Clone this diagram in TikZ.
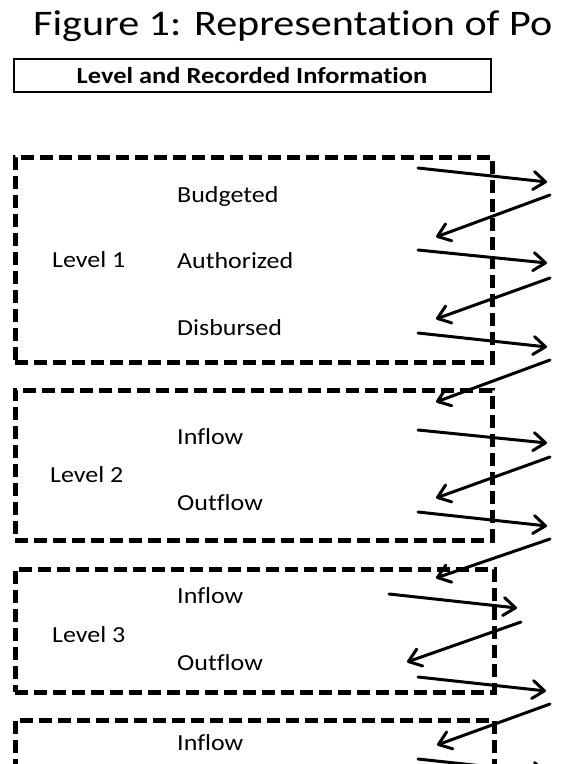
\documentclass[tikz,border=0pt]{standalone}
\usepackage{graphicx}
\usepackage{fontspec}
\setmainfont{Carlito}[Ligatures=NoCommon]
\usetikzlibrary{arrows.meta}
\newcommand{\wideA}[1]{\scalebox{1.13}[1]{#1}}
\begin{document}
\begin{tikzpicture}[x=1pt,y=-1pt,
  dashbox/.style={draw=black,line width=4.5pt,dash pattern=on 13pt off 6pt,anchor=north west,inner sep=0pt},
  lbl/.style={anchor=base west,inner sep=0pt,font=\fontsize{23}{26}\selectfont},
  flow/.style={line width=3pt,line cap=round,-{Straight Barb[length=12pt,width=18pt,line cap=round,line join=round]}},
]
\useasboundingbox (0,0) rectangle (570,764);
\node[anchor=base west,inner sep=0pt,font=\fontsize{36}{40}\selectfont] (title) at (33,35) {\scalebox{1.17}[1]{Figure 1: Representation of Po}};
\node[draw,line width=1.5pt,anchor=north west,minimum width=477pt,minimum height=33pt,inner sep=0pt] (hdr) at (13,58) {};
\node[font=\bfseries\fontsize{23}{26}\selectfont,anchor=base,inner sep=0pt] (hdrtxt) at (252,83) {\scalebox{1.15}[1]{Level and Recorded Information}};
% boxes
\node[dashbox,minimum width=477pt,minimum height=205pt] (lv1) at (13,155) {};
\node[dashbox,minimum width=477pt,minimum height=150pt] (lv2) at (13,388) {};
\node[dashbox,minimum width=479pt,minimum height=123pt] (lv3) at (13,567) {};
\node[dashbox,minimum width=479pt,minimum height=200pt] (lv4) at (13,718) {};
% labels
\node[lbl] (l1) at (52,267) {\wideA{Level 1}};
\node[lbl] (bud) at (177,202) {\wideA{Budgeted}};
\node[lbl] (aut) at (177,268) {\wideA{Authorized}};
\node[lbl] (dis) at (177,335) {\wideA{Disbursed}};
\node[lbl] (l2) at (50,482) {\wideA{Level 2}};
\node[lbl] (in2) at (177,444) {\wideA{Inflow}};
\node[lbl] (out2) at (177,510) {\wideA{Outflow}};
\node[lbl] (l3) at (52,642) {\wideA{Level 3}};
\node[lbl] (in3) at (177,603) {\wideA{Inflow}};
\node[lbl] (out3) at (177,670) {\wideA{Outflow}};
\node[lbl] (in4) at (177,750) {\wideA{Inflow}};
% arrow end points
\coordinate (a1s) at (418,168); \coordinate (a1e) at (547,182);
\coordinate (a2s) at (550,195); \coordinate (a2e) at (436,237);
\coordinate (a3s) at (418,250); \coordinate (a3e) at (547,263);
\coordinate (a4s) at (550,278); \coordinate (a4e) at (436,319);
\coordinate (a5s) at (418,333); \coordinate (a5e) at (547,347);
\coordinate (a6s) at (550,360); \coordinate (a6e) at (436,402);
\coordinate (a7s) at (418,430); \coordinate (a7e) at (547,443);
\coordinate (a8s) at (550,457); \coordinate (a8e) at (436,498);
\coordinate (a9s) at (418,512); \coordinate (a9e) at (547,526);
\coordinate (a10s) at (550,539); \coordinate (a10e) at (436,578);
\coordinate (a11s) at (389,594); \coordinate (a11e) at (517,608);
\coordinate (a12s) at (521,622); \coordinate (a12e) at (407,662);
\coordinate (a13s) at (418,677); \coordinate (a13e) at (546,691);
\coordinate (a14s) at (550,704); \coordinate (a14e) at (437,745);
\coordinate (a15s) at (418,759); \coordinate (a15e) at (547,773);
\foreach \i in {1,...,15} {\draw[flow] (a\i s) -- (a\i e);}
\end{tikzpicture}
\end{document}
